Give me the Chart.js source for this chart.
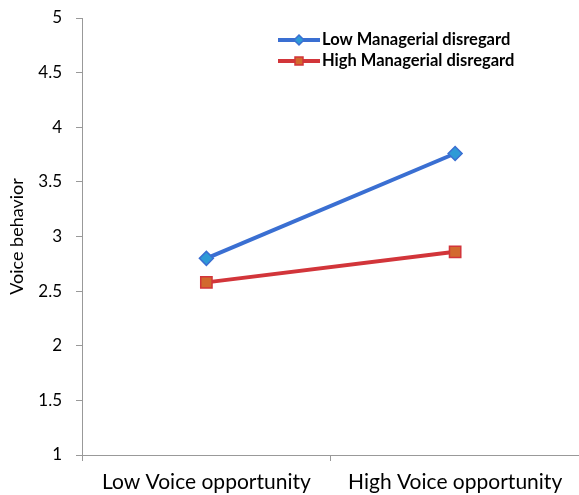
<!DOCTYPE html>
<html>
<head>
<meta charset="utf-8">
<script src="https://cdn.jsdelivr.net/npm/chart.js@4"></script>
<style>
  html, body { margin: 0; padding: 0; background: #fff; overflow: hidden; }
  #wrap { width: 589px; height: 495px; }
</style>
</head>
<body>
<div id="wrap"><canvas id="chart"></canvas></div>
<script>
const categories = ['Low Voice opportunity', 'High Voice opportunity'];
const lowDisregard = [2.8, 3.76];
const highDisregard = [2.58, 2.86];
const seriesNames = ['Low Managerial disregard', 'High Managerial disregard'];

const font = 'Lato, "Open Sans", sans-serif';

// draws the line+marker legend inside the plot, stacked
const lineLegend = {
  id: 'lineLegend',
  afterDraw(chart) {
    const ctx = chart.ctx;
    const x0 = 278, rowY = [40, 61];
    chart.data.datasets.forEach((ds, i) => {
      const y = rowY[i];
      ctx.save();
      ctx.strokeStyle = ds.borderColor;
      ctx.lineWidth = 4;
      ctx.beginPath();
      ctx.moveTo(x0, y);
      ctx.lineTo(x0 + 42, y);
      ctx.stroke();
      ctx.fillStyle = ds.pointBackgroundColor;
      ctx.strokeStyle = ds.pointBorderColor;
      ctx.lineWidth = 1.5;
      const cx = x0 + 21;
      if (ds.pointStyle === 'rectRot') {
        ctx.beginPath();
        ctx.moveTo(cx, y - 5); ctx.lineTo(cx + 5, y); ctx.lineTo(cx, y + 5); ctx.lineTo(cx - 5, y);
        ctx.closePath();
        ctx.fill(); ctx.stroke();
      } else {
        ctx.fillRect(cx - 4, y - 4, 8, 8);
        ctx.strokeRect(cx - 4, y - 4, 8, 8);
      }
      ctx.fillStyle = '#000';
      ctx.font = 'bold 16.5px ' + font;
      ctx.textBaseline = 'middle';
      ctx.fillText(ds.label, x0 + 44, y);
      ctx.restore();
    });
  }
};

new Chart(document.getElementById('chart'), {
  type: 'line',
  data: {
    labels: categories,
    datasets: [{
      label: seriesNames[0],
      data: lowDisregard,
      borderColor: '#3A6FD2',
      borderWidth: 4,
      pointStyle: 'rectRot',
      pointRadius: 7,
      pointBackgroundColor: '#2E9AD6',
      pointBorderColor: '#3A6FD2',
      pointBorderWidth: 1.5
    }, {
      label: seriesNames[1],
      data: highDisregard,
      borderColor: '#D2353A',
      borderWidth: 4,
      pointStyle: 'rect',
      pointRadius: 8,
      pointBackgroundColor: '#D2692E',
      pointBorderColor: '#D2353A',
      pointBorderWidth: 1.5
    }]
  },
  options: {
    responsive: true,
    maintainAspectRatio: false,
    animation: false,
    layout: { padding: { top: 18, right: 0, bottom: 0, left: 1 } },
    plugins: { legend: { display: false }, tooltip: { enabled: false } },
    scales: {
      x: {
        offset: true,
        afterFit: s => { s.height = 40; },
        grid: { display: true, drawOnChartArea: false, offset: true, tickLength: 6, color: '#999' },
        border: { color: '#999' },
        ticks: { color: '#000', font: { family: font, size: 21 }, padding: 9, maxRotation: 0 }
      },
      y: {
        min: 1,
        max: 5,
        afterFit: s => { s.width = 81; s.paddingTop = 10; s.paddingBottom = 10; },
        grid: { display: true, drawOnChartArea: false, tickLength: 6, color: '#999' },
        border: { color: '#999' },
        ticks: {
          stepSize: 0.5, color: '#000', font: { family: font, size: 17 }, padding: 14,
          callback: v => String(v)
        },
        title: { display: true, text: 'Voice behavior', color: '#000', font: { family: font, size: 18 }, padding: 5 }
      }
    }
  },
  plugins: [lineLegend]
});
</script>
</body>
</html>
